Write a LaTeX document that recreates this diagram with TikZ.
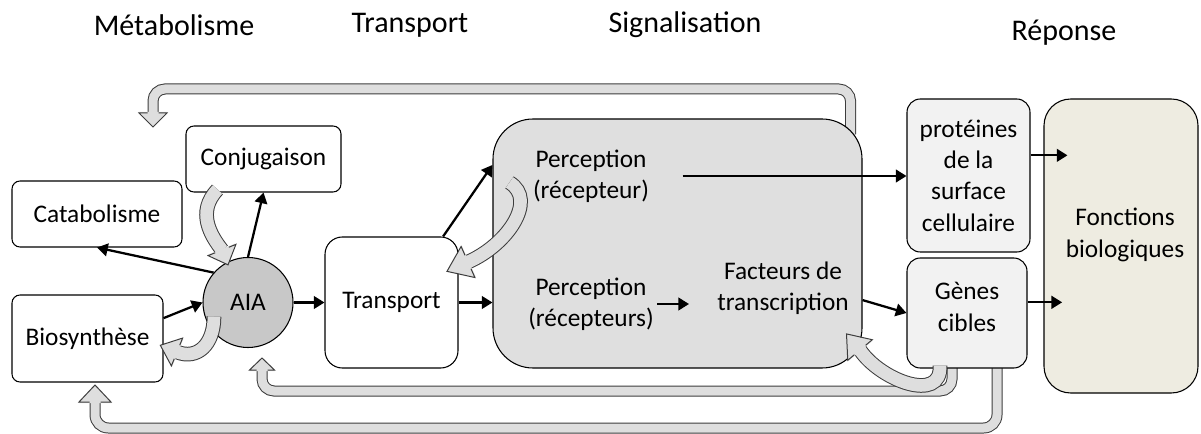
\documentclass[tikz,border=0pt]{standalone}
\usepackage{fontspec}
\setmainfont{Carlito}
\usepackage{tikz}
\usetikzlibrary{arrows.meta,positioning,calc,backgrounds}

\definecolor{fbgray}{RGB}{222,222,222}
\definecolor{fbline}{RGB}{60,60,60}
\definecolor{siggray}{RGB}{223,223,223}
\definecolor{aiagray}{RGB}{200,200,200}
\definecolor{repgray}{RGB}{242,242,242}
\definecolor{fonctan}{RGB}{238,236,225}

\newcommand\lblfont{\fontsize{19}{23.5}\selectfont}
\newcommand\headfont{\fontsize{22.5}{27}\selectfont}

% feedback arrows: outlined shaft + head
\newcommand\fbpath[2][8.25pt]{\draw[fbedge, line width=#1] #2; \draw[fbfill, line width=#1-1.5pt] #2;}
\newcommand\fbhead[5][5.5]{%
  \begin{scope}[shift={(#2)}, rotate=#3]
    \fill[fbgray] (-1,-#4) -- (#5,0) -- (-1,#4) -- cycle;
    \draw[fbline, line width=0.75pt, line join=miter] (0,-#1) -- (0,-#4) -- (#5,0) -- (0,#4) -- (0,#1);
  \end{scope}}

\tikzset{
  box/.style={draw, line width=0.8pt, rounded corners=6pt, inner sep=0pt, align=center, font=\lblfont, fill=white},
  lbl/.style={inner sep=1pt, align=center, font=\lblfont},
  head/.style={inner sep=0pt, font=\headfont},
  arr/.style={-{Triangle[length=8pt,width=9.5pt]}, line width=1.7pt},
  fbedge/.style={draw=fbline},
  fbfill/.style={draw=fbgray},
}

\begin{document}
\begin{tikzpicture}[x=0.75pt, y=-0.75pt]
\useasboundingbox (0,0) rectangle (1201,434);

% column titles
\node[head] (methd) at (174,25) {Métabolisme};
\node[head] (trhd) at (410,25) {Transport};
\node[head] (sighd) at (685,25) {Signalisation};
\node[head] (rephd) at (1064,33) {Réponse};

% metabolism
\node[box, minimum width=127.5pt, minimum height=49.5pt] (catab) at (97,214) {Catabolisme};
\node[box, minimum width=116.25pt, minimum height=49.5pt] (conj) at (263.5,159) {Conjugaison};
\node[box, minimum width=113.25pt, minimum height=65.25pt] (bios) at (87.5,338.5) {Biosynthèse};
\node[circle, draw, line width=0.8pt, fill=aiagray, minimum size=67.5pt, inner sep=0pt, font=\lblfont] (aia) at (248,302.5) {AIA};

% transport
\node[box, rounded corners=13pt, minimum width=99.75pt, minimum height=98.25pt] (transp) at (391.5,302.5) {Transport};

% signalling
\node[box, fill=siggray, rounded corners=30pt, minimum width=276.75pt, minimum height=186.75pt] (sig) at (677.5,243.5) {};
\node[lbl] (perc1) at (591,176) {Perception\\(récepteur)};
\node[lbl] (perc2) at (591,304) {Perception\\(récepteurs)};
\node[lbl] (fact) at (783,288) {Facteurs de\\transcription};

% response
\node[box, fill=repgray, rounded corners=10pt, minimum width=92.25pt, minimum height=114.75pt] (prot) at (968.5,175.5) {protéines\\de la\\surface\\cellulaire};
\node[box, fill=repgray, rounded corners=10pt, minimum width=90pt, minimum height=82.5pt] (genes) at (967,313) {};
\node[lbl] (genestxt) at (967,307) {Gènes\\cibles};
\node[box, fill=fonctan, rounded corners=20pt, minimum width=115.5pt, minimum height=220.5pt] (fonc) at (1121,246) {};
\node[lbl] (fonctxt) at (1125,235) {Fonctions\\biologiques};

% feedback loops (behind the boxes)
\coordinate (topfb) at (153,113);
\coordinate (midfb) at (262,370);
\coordinate (botfb) at (95,402);
\begin{scope}[on background layer]
\fbpath{[rounded corners=9pt] ($(sig.north east)+(-12,16)$) |- ($(topfb)+(0,-24)$) -- (topfb)}
\fbhead{topfb}{-90}{14}{14}
\fbpath{[rounded corners=9pt] ($(genes.south)+(-15,-8)$) |- ($(midfb)+(0,21)$) -- (midfb)}
\fbhead{midfb}{90}{12.5}{12}
\fbpath{[rounded corners=10pt] ($(genes.south)+(30,-8)$) |- ($(botfb)+(0,26)$) -- (botfb)}
\fbhead{botfb}{90}{16}{17}
\end{scope}

% curved feedback arrows
\coordinate (conjfb) at (222,250);
\coordinate (biosfb) at (177,352);
\coordinate (trfb) at (468,262);
\coordinate (factfb) at (860,350);
\fbpath[11pt]{($(conj.south)+(-46,-3)$) .. controls (196,212) and (211,236) .. (conjfb)}
\fbhead[7.3]{conjfb}{-68}{15}{16}
\fbpath[11pt]{($(aia.center)+(-34,14)$) .. controls (214,345) and (197,360) .. (biosfb)}
\fbhead[7.3]{biosfb}{158}{15}{18}
\fbpath[11pt]{($(sig.north west)+(17,64)$) .. controls (538,200) and (507,245) .. (trfb)}
\fbhead[7.3]{trfb}{204}{17}{23}
\fbpath[11pt]{($(genes.south)+(-27,-3)$) .. controls (942,404) and (880,380) .. (factfb)}
\fbhead[7.3]{factfb}{130}{16}{21}

% black arrows
\draw[arr] (aia.139) -- (catab.south);
\draw[arr] (aia.north) -- (conj.south);
\draw[arr] (bios.15) -- (aia.west);
\draw[arr] (aia.east) -- (transp.west);
\draw[arr] (transp.52) -- (sig.157.5);
\draw[arr] (transp.east) -- (transp.east -| sig.west);
\draw[arr, shorten <=1.5pt, shorten >=20pt] (perc2.east) -- (perc2.east -| fact.west);
\draw[arr, shorten <=24pt] (perc1.east) -- (perc1.east -| prot.west);
\draw[arr] (sig.-17.3) -- (genes.west);
\draw[arr, shorten >=-18pt] (prot.18) -- (prot.18 -| fonc.west);
\draw[arr, shorten >=-14pt] (genes.10) -- (genes.10 -| fonc.west);
\end{tikzpicture}
\end{document}
